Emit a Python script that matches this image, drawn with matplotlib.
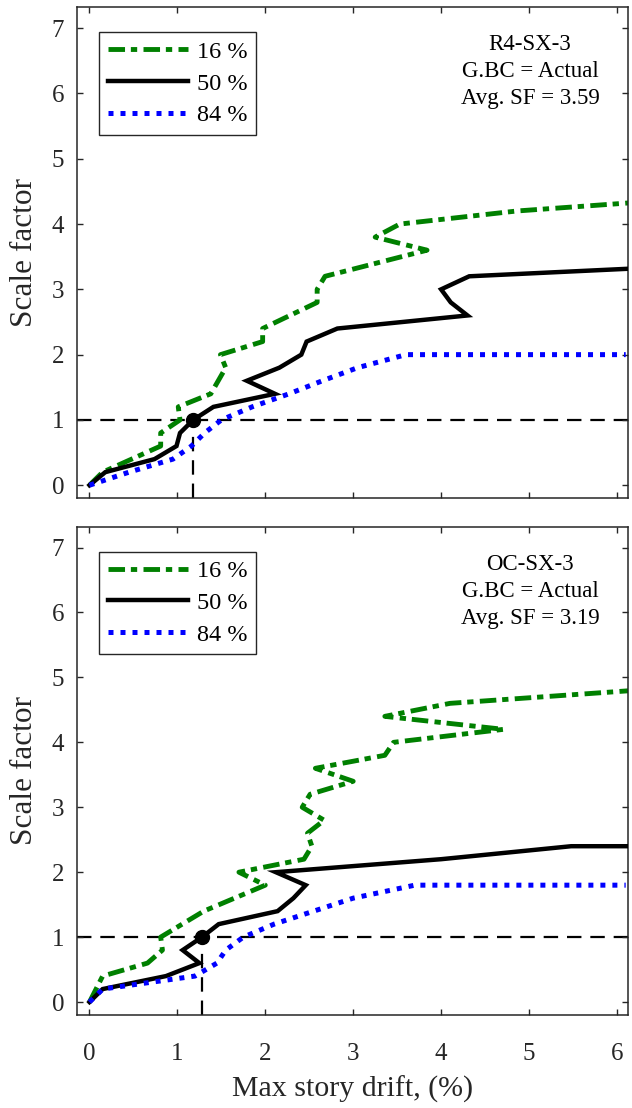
import matplotlib
matplotlib.use("Agg")
import matplotlib.pyplot as plt
from matplotlib.lines import Line2D

plt.rcParams["font.family"] = ["Liberation Serif", "DejaVu Serif"]

# ---- R4-SX-3 fractile curves (max story drift %, scale factor) ----
r4_drift_16 = [0, 0.15, 0.81, 0.81, 1.03, 1.01, 1.38, 1.55, 1.49, 1.97, 1.97,
               2.59, 2.59, 2.68, 3.84, 3.25, 3.53, 4.86, 6.2]
r4_sf_16 = [0, 0.2, 0.6, 0.8, 1.0, 1.2, 1.4, 1.8, 2.0, 2.2, 2.4,
            2.8, 3.0, 3.2, 3.6, 3.8, 4.0, 4.2, 4.33]

r4_drift_50 = [0, 0.18, 0.74, 0.99, 1.03, 1.18, 1.41, 2.11, 1.79, 2.16, 2.41,
               2.47, 2.82, 4.30, 4.11, 4.0, 4.32, 6.2]
r4_sf_50 = [0, 0.2, 0.4, 0.6, 0.8, 1.0, 1.2, 1.4, 1.6, 1.8, 2.0,
            2.2, 2.4, 2.6, 2.8, 3.0, 3.2, 3.32]

r4_drift_84 = [0, 0.45, 0.95, 1.16, 1.31, 1.5, 1.85, 2.27, 2.65, 3.05, 3.6, 6.1]
r4_sf_84 = [0, 0.2, 0.4, 0.6, 0.8, 1.0, 1.2, 1.4, 1.6, 1.8, 2.0, 2.0]

# ---- OC-SX-3 fractile curves ----
oc_drift_16 = [0, 0.15, 0.66, 0.83, 0.81, 1.3, 2.0, 1.7, 2.44, 2.53, 2.48,
               2.67, 2.42, 2.51, 3.0, 2.57, 3.36, 3.46, 4.71, 3.36, 4.1, 6.2]
oc_sf_16 = [0, 0.4, 0.6, 0.8, 1.0, 1.4, 1.8, 2.0, 2.2, 2.4, 2.6,
            2.8, 3.0, 3.2, 3.4, 3.6, 3.8, 4.0, 4.2, 4.4, 4.6, 4.8]

oc_drift_50 = [0, 0.15, 0.87, 1.25, 1.06, 1.28, 1.47, 2.14, 2.32, 2.46, 2.12,
               4.0, 5.48, 6.2]
oc_sf_50 = [0, 0.2, 0.4, 0.6, 0.8, 1.0, 1.2, 1.4, 1.6, 1.8, 2.0,
            2.2, 2.4, 2.4]

oc_drift_84 = [0, 0.15, 1.2, 1.45, 1.55, 1.75, 2.1, 2.55, 3.0, 3.7, 6.1]
oc_sf_84 = [0, 0.2, 0.4, 0.6, 0.8, 1.0, 1.2, 1.4, 1.6, 1.8, 1.8]

# median drift at SF = 1
r4_median_drift_sf1 = 1.18
oc_median_drift_sf1 = 1.28

panel_names = ["R4-SX-3", "OC-SX-3"]
panel_avg_sf = [3.59, 3.19]
fractile_labels = ["16 %", "50 %", "84 %"]
x_ticks = [0, 1, 2, 3, 4, 5, 6]
y_ticks = [0, 1, 2, 3, 4, 5, 6, 7]

AX_COLOR = "#262626"
GREEN = "#008000"
BLUE = "#0000FF"

fig = plt.figure(figsize=(6.32, 11.08), dpi=100)
ax_top = fig.add_axes([0.1214, 0.5503, 0.8728, 0.4431])
ax_bot = fig.add_axes([0.1214, 0.0839, 0.8728, 0.4407])

style_16 = dict(color=GREEN, lw=3.5, linestyle=(0, (3.4, 1.2, 1.3, 1.3)),
                dash_capstyle="butt", solid_capstyle="butt")
style_50 = dict(color="black", lw=3.2, linestyle="-", solid_joinstyle="miter")
style_84 = dict(color=BLUE, lw=3.6, linestyle=(0, (1, 1.4)), dash_capstyle="butt")

panels = [
    (ax_top, r4_drift_16, r4_sf_16, r4_drift_50, r4_sf_50, r4_drift_84, r4_sf_84,
     r4_median_drift_sf1),
    (ax_bot, oc_drift_16, oc_sf_16, oc_drift_50, oc_sf_50, oc_drift_84, oc_sf_84,
     oc_median_drift_sf1),
]

ylo, yhi = -0.2, 7.32
for i, (ax, d16, s16, d50, s50, d84, s84, dmed) in enumerate(panels):
    ax.set_xlim(-0.145, 6.13)
    ax.set_ylim(ylo, yhi)

    ax.axhline(1.0, color="black", lw=1.6, linestyle=(0, (6.5, 4)), zorder=1)
    ax.plot([dmed, dmed], [ylo, 1.0], color="black", lw=1.6,
            linestyle=(0, (6.5, 4)), zorder=1)

    ax.plot(d16, s16, zorder=2, **style_16)
    ax.plot(d50, s50, zorder=3, **style_50)
    ax.plot(d84, s84, zorder=4, **style_84)
    ax.plot([dmed], [1.0], "o", color="black", ms=10, zorder=6)

    handles = [Line2D([], [], **style_16), Line2D([], [], **style_50),
               Line2D([], [], **style_84)]
    leg = ax.legend(handles, fractile_labels, loc="upper left",
                    bbox_to_anchor=(0.041, 0.949), borderaxespad=0,
                    fontsize=17.5, fancybox=False, framealpha=1,
                    edgecolor=AX_COLOR, handlelength=3.3, handletextpad=0.35,
                    labelspacing=0.4, borderpad=0.35)
    leg.get_frame().set_linewidth(1.0)

    ax.text(0.822, 0.945,
            f"{panel_names[i]}\nG.BC = Actual\nAvg. SF = {panel_avg_sf[i]:.2f}",
            transform=ax.transAxes, ha="center", va="top", fontsize=16.5,
            linespacing=1.38, color="black")

    ax.set_xticks(x_ticks)
    ax.set_yticks(y_ticks)
    for sp in ax.spines.values():
        sp.set_color(AX_COLOR)
        sp.set_linewidth(1.1)
    ax.tick_params(direction="in", top=True, right=True, length=4.5, width=1.0,
                   color=AX_COLOR, labelsize=18, labelcolor=AX_COLOR)
    ax.tick_params(axis="y", pad=9)
    ax.tick_params(axis="x", pad=20)
    ax.set_ylabel("Scale factor", fontsize=22.5, color=AX_COLOR, labelpad=9)

ax_top.tick_params(labelbottom=False)
ax_bot.set_xlabel("Max story drift, (%)", fontsize=21.5, color=AX_COLOR,
                  labelpad=8)

fig.savefig("out.png", dpi=100)
